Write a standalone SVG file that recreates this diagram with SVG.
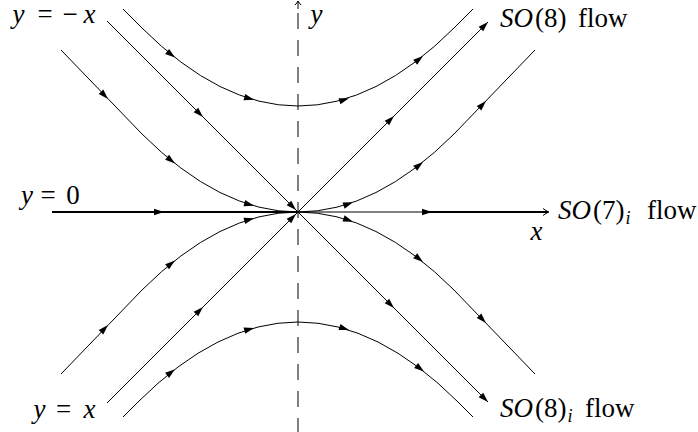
<svg xmlns="http://www.w3.org/2000/svg" width="698" height="432" viewBox="0 0 698 432">
<style>
.t{fill:none;stroke:#000;stroke-width:1}
.k{fill:none;stroke:#000;stroke-width:2}
.d{fill:none;stroke:#000;stroke-width:1;stroke-dasharray:16 11}
text{font-family:"Liberation Serif","Times New Roman",serif;font-size:27px;fill:#000}
.i{font-style:italic}
.s{font-size:18px;font-style:italic}
</style>
<defs>
<path id="ah" d="M0,0 L-10,-3.2 L-10,3.2 Z" fill="#000"/>
</defs>
<rect width="698" height="432" fill="#fff"/>
<g id="axes">
<path class="d" d="M298,13 V432"/>
<path class="t" d="M298,9 V1 M295,5 Q297,3 298,1 Q299,3 301,5"/>
<path class="k" d="M52,212 H298"/>
<path class="t" d="M298,212 H425"/>
<path class="k" d="M425,212 H548"/>
<path class="t" d="M543,208.5 Q546,211 549,212 Q546,213 543,215.5"/>
</g>
<g id="connectors">
<path class="t" d="M107,21 L488,402"/>
<path class="t" d="M107,403 L488,22"/>
<path class="t" d="M61,50 L142,134 Q220,212 298,212"/>
<path class="t" d="M61,374 L142,290 Q220,212 298,212"/>
<path class="t" d="M298,212 Q376,212 454,134 L535,50"/>
<path class="t" d="M298,212 Q376,212 454,290 L535,374"/>
<path class="t" d="M123,9 L142,28 Q220,106 298,106 Q376,106 454,28 L473,9"/>
<path class="t" d="M123,417 L138,402 Q218,322 298,322 Q378,322 458,402 L473,417"/>
</g>
<g id="arrowheads">
<use href="#ah" transform="translate(164,212)"/>
<use href="#ah" transform="translate(432,212)"/>
<use href="#ah" transform="translate(108,99) rotate(46)"/>
<use href="#ah" transform="translate(175,163.5) rotate(38)"/>
<use href="#ah" transform="translate(254,205.8) rotate(15.7)"/>
<use href="#ah" transform="translate(108,325) rotate(-46)"/>
<use href="#ah" transform="translate(175,260.5) rotate(-38)"/>
<use href="#ah" transform="translate(254,218.2) rotate(-15.7)"/>
<use href="#ah" transform="translate(353,202.3) rotate(-19.4)"/>
<use href="#ah" transform="translate(423,162) rotate(-38.7)"/>
<use href="#ah" transform="translate(486,101) rotate(-46)"/>
<use href="#ah" transform="translate(353,221.7) rotate(19.4)"/>
<use href="#ah" transform="translate(423,262) rotate(38.7)"/>
<use href="#ah" transform="translate(486,323) rotate(46)"/>
<use href="#ah" transform="translate(203,117) rotate(45)"/>
<use href="#ah" transform="translate(296,210) rotate(45)"/>
<use href="#ah" transform="translate(394,308) rotate(45)"/>
<use href="#ah" transform="translate(488,402) rotate(45)"/>
<use href="#ah" transform="translate(203,307) rotate(-45)"/>
<use href="#ah" transform="translate(296,214) rotate(-45)"/>
<use href="#ah" transform="translate(394,116) rotate(-45)"/>
<use href="#ah" transform="translate(488,22) rotate(-45)"/>
<use href="#ah" transform="translate(175,57.6) rotate(38)"/>
<use href="#ah" transform="translate(254,99.8) rotate(15.7)"/>
<use href="#ah" transform="translate(349,98.3) rotate(-17.4)"/>
<use href="#ah" transform="translate(423,56) rotate(-38.7)"/>
<use href="#ah" transform="translate(175,369.3) rotate(-37.6)"/>
<use href="#ah" transform="translate(254,328) rotate(-15.4)"/>
<use href="#ah" transform="translate(349,330.1) rotate(17.7)"/>
<use href="#ah" transform="translate(424,371.6) rotate(38)"/>
</g>
<g id="labels">
<text id="lbl-ymx" y="23" font-size="24" text-anchor="middle"><tspan class="i" x="18.5">y</tspan><tspan x="45">=</tspan><tspan x="70">−</tspan><tspan class="i" x="89.5">x</tspan></text>
<text id="lbl-y0" y="204" text-anchor="middle"><tspan class="i" x="27">y</tspan><tspan x="48">=</tspan><tspan x="73">0</tspan></text>
<text id="lbl-yx" y="418" text-anchor="middle"><tspan class="i" x="39.5">y</tspan><tspan x="63.5">=</tspan><tspan class="i" x="89.5">x</tspan></text>
<text id="lbl-yaxis" class="i" x="316.5" y="22.5" font-size="23" text-anchor="middle">y</text>
<text id="lbl-xaxis" class="i" x="536.5" y="240" text-anchor="middle">x</text>
<text id="lbl-so8" y="27"><tspan class="i" x="500">SO</tspan><tspan dx="2">(8) </tspan><tspan x="578">flow</tspan></text>
<text id="lbl-so7" y="219"><tspan class="i" x="558">SO</tspan><tspan dx="2">(7)</tspan><tspan class="s" dx="1" dy="5">i</tspan><tspan x="647" dy="-5">flow</tspan></text>
<text id="lbl-so8i" y="417"><tspan class="i" x="500">SO</tspan><tspan dx="2">(8)</tspan><tspan class="s" dx="1" dy="5">i</tspan><tspan x="585" dy="-5">flow</tspan></text>
</g>
</svg>
